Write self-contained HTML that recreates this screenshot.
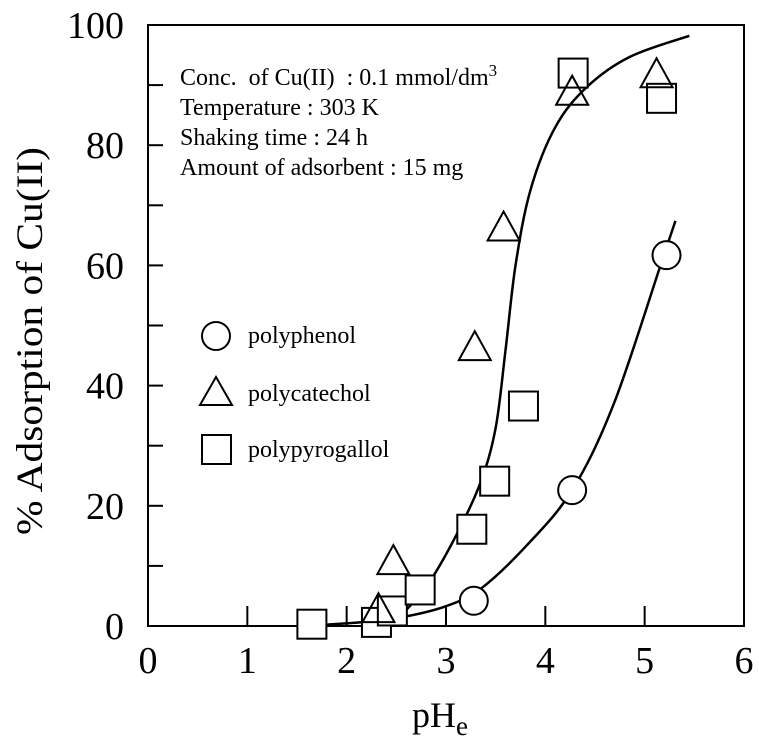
<!DOCTYPE html>
<html><head><meta charset="utf-8"><style>
body{margin:0;background:#fff}
svg text{font-family:"Liberation Serif",serif;fill:#000}
</style></head><body>
<svg id="chart" width="759" height="745" viewBox="0 0 759 745" xmlns="http://www.w3.org/2000/svg">
<rect x="148" y="25" width="596" height="601" fill="none" stroke="#000" stroke-width="2"/>
<g id="ticks"></g>
<g id="curves"></g>
<g id="marks"></g>
<text x="0" y="0" font-size="37" text-anchor="middle" textLength="388" lengthAdjust="spacingAndGlyphs" transform="translate(42,341) rotate(-90)">% Adsorption of Cu(II)</text>
<text x="412" y="727" font-size="36">pH<tspan font-size="27" dy="8">e</tspan></text>
<g font-size="24" style="white-space:pre">
<text x="180" y="85" xml:space="preserve">Conc.  of Cu(II)  : 0.1 mmol/dm<tspan font-size="17" dy="-9">3</tspan></text>
<text x="180" y="115">Temperature : 303 K</text>
<text x="180" y="145">Shaking time : 24 h</text>
<text x="180" y="175">Amount of adsorbent : 15 mg</text>
</g>
<g font-size="24">
<circle cx="216" cy="336" r="14" fill="none" stroke="#000" stroke-width="2"/>
<text x="248" y="343">polyphenol</text>
<polygon points="216,377 200,405 232,405" fill="none" stroke="#000" stroke-width="2"/>
<text x="248" y="401">polycatechol</text>
<rect x="202" y="435" width="29" height="29" fill="none" stroke="#000" stroke-width="2"/>
<text x="248" y="457">polypyrogallol</text>
</g>
</svg>
<script>
const xTicks=[0,1,2,3,4,5,6];
const yTicks=[0,20,40,60,80,100];
const phenolX=[3.28,4.27,5.22];
const phenolY=[4.2,22.6,61.7];
const catecholX=[2.32,2.47,3.29,3.58,4.27,5.12];
const catecholY=[2.8,10.8,46.4,66.3,88.9,91.8];
const pyroX=[1.65,2.3,2.46,2.74,3.26,3.49,3.78,4.28,5.17];
const pyroY=[0.3,0.6,2.5,6,16.1,24.1,36.6,92,87.8];
// fitted curves
const steepCurveX=[2.5,2.8,3.1,3.35,3.5,3.6,3.7,3.85,4.1,4.42,4.85,5.45];
const steepCurveY=[1,6.5,15,24,33,46,60,72.5,83,89.7,94.7,98.2];
const slowCurveX=[1.78,2.2,2.6,3.0,3.35,3.8,4.27,4.69,5.16,5.31];
const slowCurveY=[0.2,0.7,1.6,3.3,6.2,13.2,22.6,37,60,67.4];

const NS="http://www.w3.org/2000/svg";
const X=v=>148+v*99.33, Y=v=>626-v*6.01;
function mk(tag,attrs,parent){const e=document.createElementNS(NS,tag);for(const k in attrs)e.setAttribute(k,attrs[k]);parent.appendChild(e);return e;}
const tg=document.getElementById('ticks');
xTicks.forEach(t=>{
  if(t>0&&t<6){const l=mk('line',{x1:X(t),x2:X(t),y1:626,y2:606,stroke:'#000','stroke-width':2},tg);
  
  }
  const tx=mk('text',{x:X(t),y:673,'font-size':38,'text-anchor':'middle'},tg);tx.textContent=t;
  
  
});
for(let v=10;v<100;v+=10){const l=mk('line',{x1:148,x2:163,y1:Y(v),y2:Y(v),stroke:'#000','stroke-width':2},tg);
  
  }
yTicks.forEach(t=>{const tx=mk('text',{x:124,y:Y(t)+13,'font-size':38,'text-anchor':'end'},tg);tx.textContent=t;
  
  });
const cg=document.getElementById('curves');
function curve(xs,ys,name){
  const p=xs.map((x,i)=>[X(x),Y(ys[i])]);
  let d='M'+p[0][0].toFixed(1)+','+p[0][1].toFixed(1);
  for(let i=0;i<p.length-1;i++){
    const p0=p[i-1]||p[i],p1=p[i],p2=p[i+1],p3=p[i+2]||p[i+1];
    const c1=[p1[0]+(p2[0]-p0[0])/6,p1[1]+(p2[1]-p0[1])/6];
    const c2=[p2[0]-(p3[0]-p1[0])/6,p2[1]-(p3[1]-p1[1])/6];
    d+=`C${c1[0].toFixed(1)},${c1[1].toFixed(1)} ${c2[0].toFixed(1)},${c2[1].toFixed(1)} ${p2[0].toFixed(1)},${p2[1].toFixed(1)}`;
  }
  const path=mk('path',{d:d,fill:'none',stroke:'#000','stroke-width':2.5},cg);
  
  }
curve(steepCurveX,steepCurveY,'fit-curve-steep');
curve(slowCurveX,slowCurveY,'fit-curve-polyphenol');
const mg=document.getElementById('marks');
phenolX.forEach((x,i)=>{const c=mk('circle',{cx:X(x),cy:Y(phenolY[i]),r:14,fill:'#fff',stroke:'#000','stroke-width':2},mg);
  
  });
pyroX.forEach((x,i)=>{const r=mk('rect',{x:X(x)-14.5,y:Y(pyroY[i])-14.5,width:29,height:29,fill:'#fff',stroke:'#000','stroke-width':2},mg);
  
  });
catecholX.forEach((x,i)=>{const cx=X(x),cy=Y(catecholY[i]);const p=mk('polygon',{points:`${cx},${cy-16} ${cx-16},${cy+13} ${cx+16},${cy+13}`,fill:'none',stroke:'#000','stroke-width':2},mg);
  
  });
</script>
</body></html>
